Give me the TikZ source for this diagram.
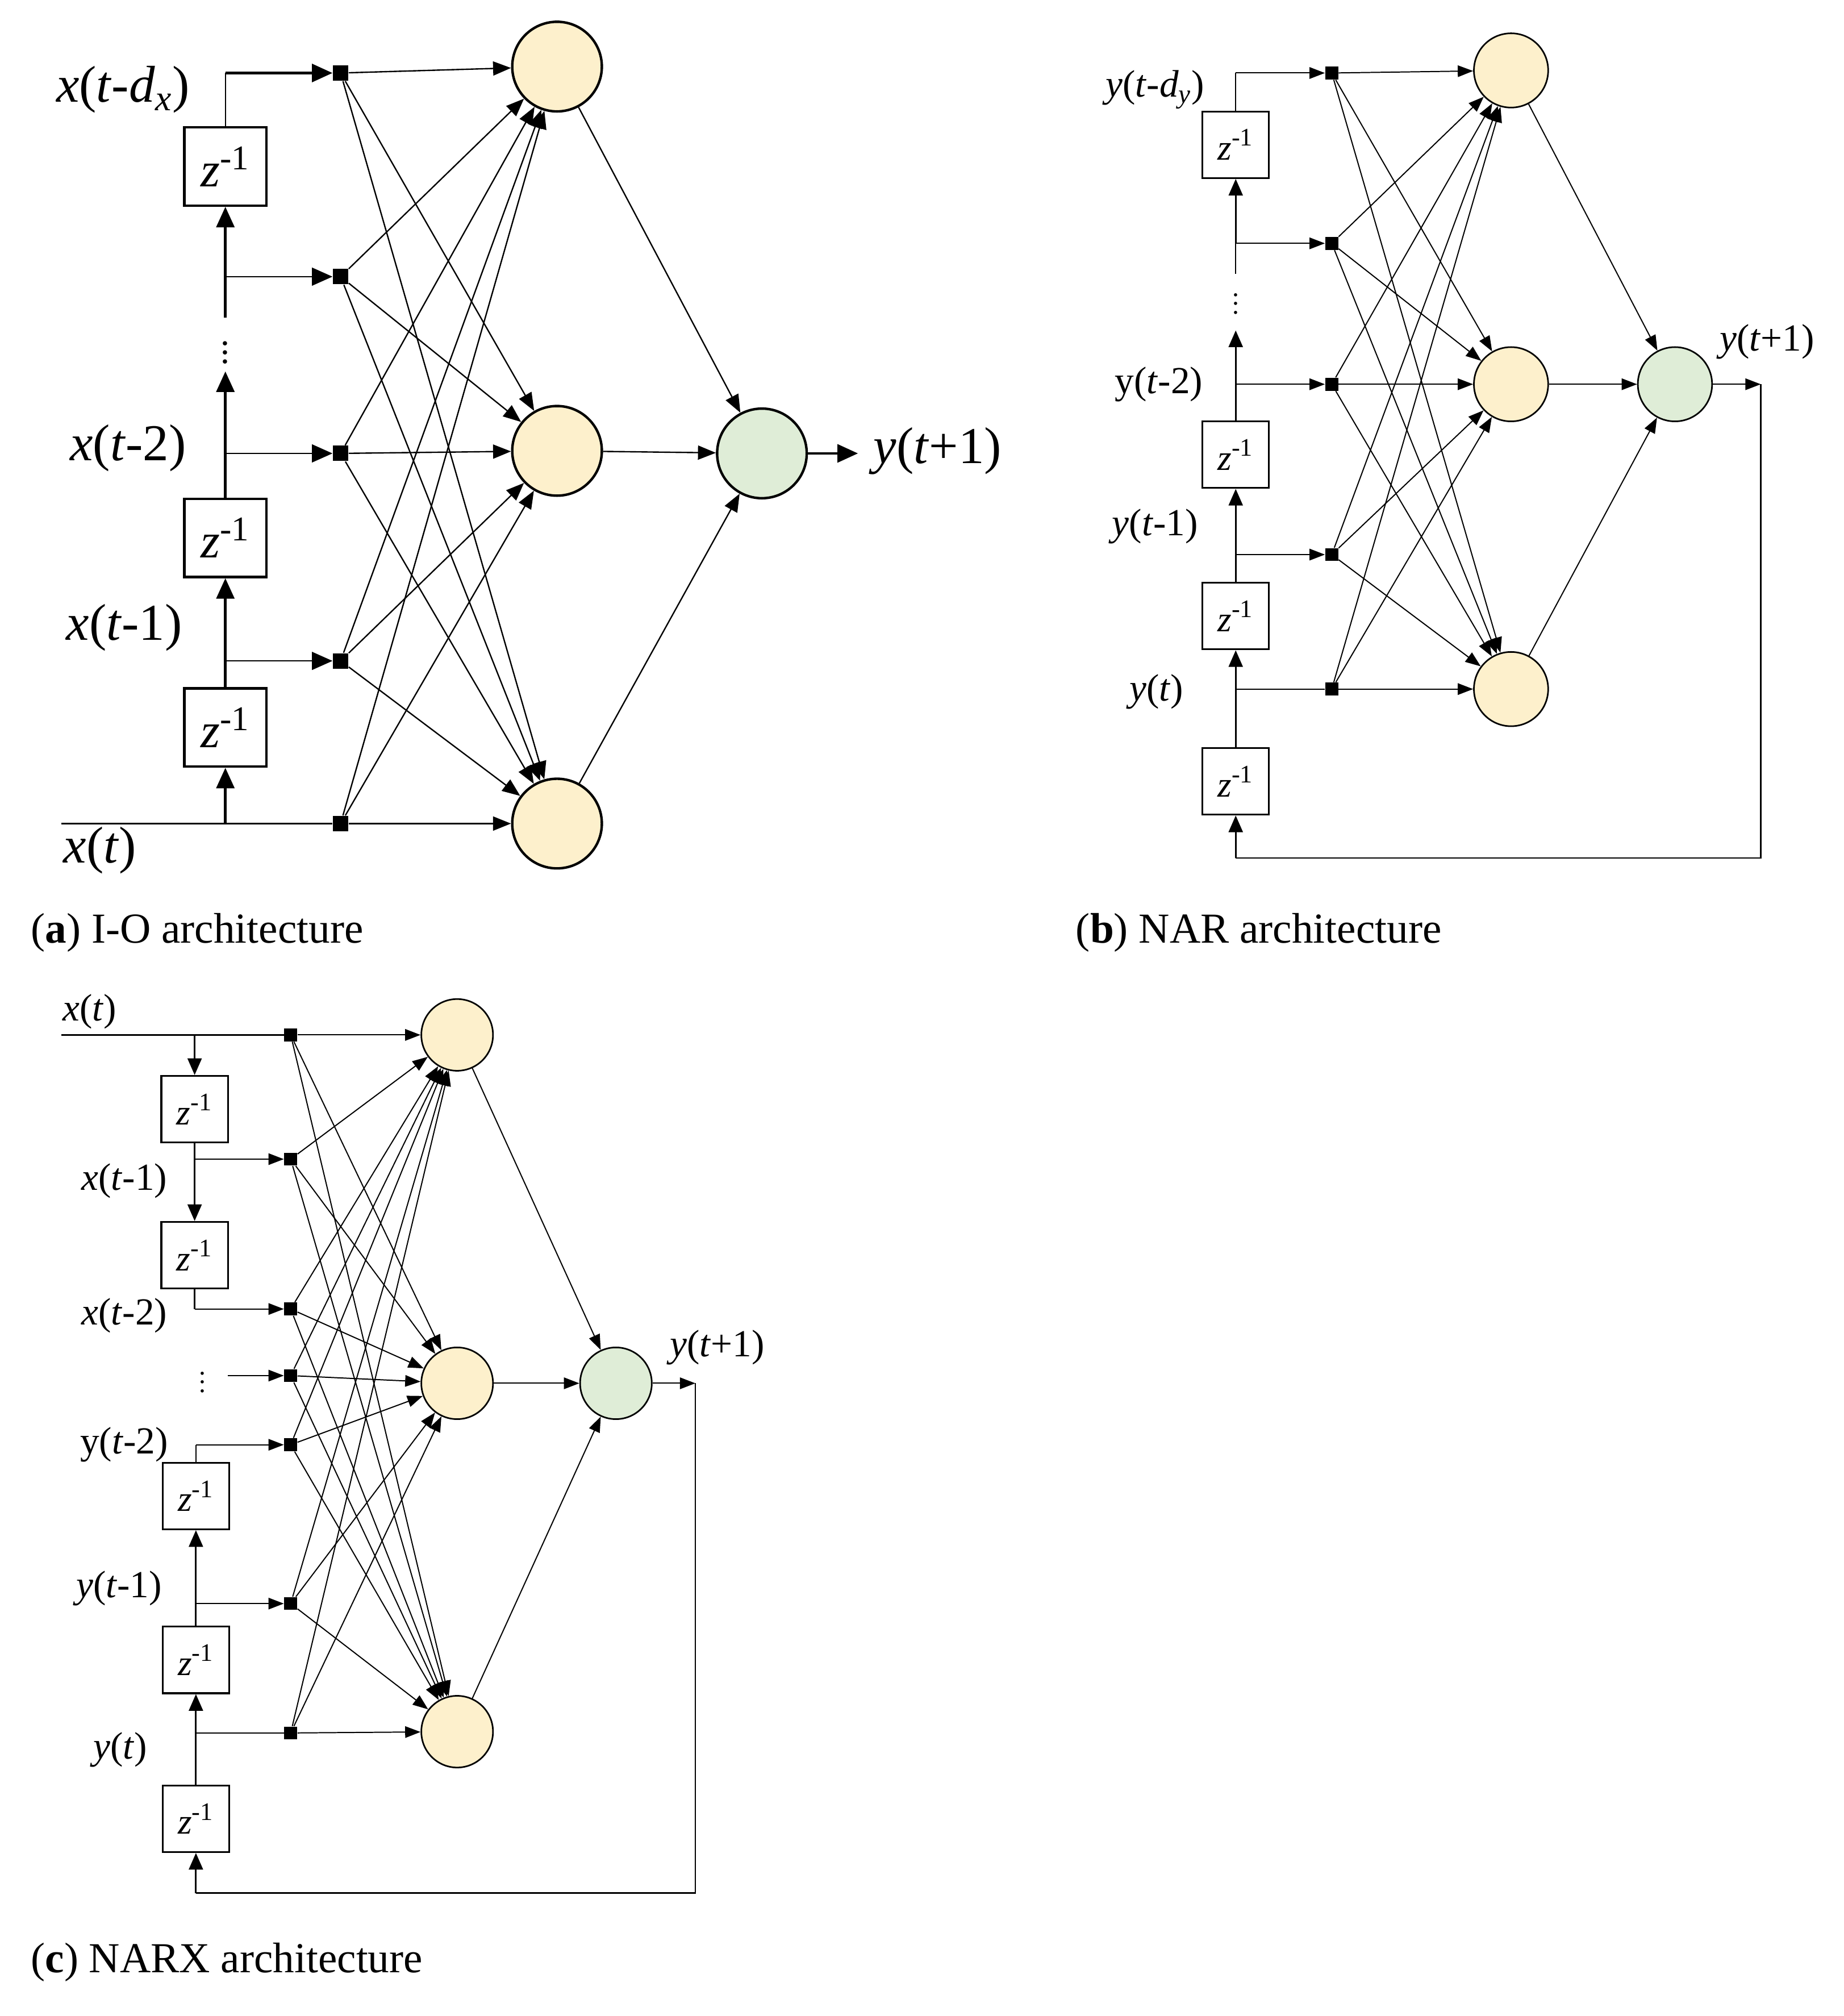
\documentclass[tikz,border=0pt]{standalone}
\usepackage{fontspec}
\setmainfont{Liberation Serif}
\usetikzlibrary{arrows.meta}
\definecolor{hid}{RGB}{253,240,204}
\definecolor{outc}{RGB}{223,237,215}
\newcommand{\zz}{\textit{z}\textsuperscript{-1}}
\newcommand{\iv}[1]{\textit{#1}}
\begin{document}
\begin{tikzpicture}[x=0.02cm,y=-0.02cm,
  dot/.style={fill=black,minimum size=0.24cm,inner sep=0,draw=none},
  sdot/.style={fill=black,minimum size=0.2cm,inner sep=0,draw=none},
  hA/.style={circle,draw,line width=1.1pt,fill=hid,minimum size=1.4cm,inner sep=0},
  oA/.style={circle,draw,line width=1.1pt,fill=outc,minimum size=1.4cm,inner sep=0},
  hB/.style={circle,draw,line width=0.7pt,fill=hid,minimum size=1.16cm,inner sep=0},
  oB/.style={circle,draw,line width=0.7pt,fill=outc,minimum size=1.16cm,inner sep=0},
  zA/.style={draw,line width=1.1pt,minimum width=1.28cm,minimum height=1.22cm,inner sep=0,font=\fontsize{22}{22}\selectfont},
  zB/.style={draw,line width=0.8pt,minimum width=1.04cm,minimum height=1.04cm,inner sep=0,font=\fontsize{16}{16}\selectfont},
  thA/.style={line width=1.2pt,-{Triangle[length=0.32cm,width=0.28cm]}},
  tnA/.style={line width=0.6pt,-{Triangle[length=0.28cm,width=0.22cm]}},
  lnA/.style={line width=0.6pt},
  thB/.style={line width=0.8pt,-{Triangle[length=0.26cm,width=0.22cm]}},
  tnB/.style={line width=0.5pt,-{Triangle[length=0.24cm,width=0.18cm]}},
  lnB/.style={line width=0.6pt},
  labA/.style={font=\fontsize{23}{23}\selectfont},
  labB/.style={font=\fontsize{17}{17}\selectfont},
  vd/.style={inner sep=0,font=\fontsize{12}{12}\selectfont},
  captxt/.style={font=\fontsize{19}{19}\selectfont,anchor=west}]
\useasboundingbox (0,0) rectangle (1440,1574);

% ================= (a) =================
\node[hA] (ah1) at (435,52) {};
\node[hA] (ah2) at (435,352) {};
\node[hA] (ah3) at (435,643) {};
\node[oA] (ao) at (595,354) {};
\foreach \n/\y in {1/57,2/216,3/354,4/516,5/643} \node[dot] (a\n) at (266,\y) {};
\node[zA] (az1) at (176,130) {\zz};
\node[zA] (az2) at (176,420) {\zz};
\node[zA] (az3) at (176,568) {\zz};
\coordinate (ain) at (48,643);
\coordinate (aj0) at (176,643);
\coordinate (aj1) at (176,516);
\coordinate (aj2) at (176,354);
\coordinate (adt) at (176,290);
\coordinate (adb) at (176,248);
\coordinate (aj3) at (176,216);
\coordinate (atop) at (176,57);
\draw[lnA] (ain) -- (a5);
\draw[thA] (aj0) -- (az3.south);
\draw[thA] (az3.north) -- (az2.south);
\draw[thA] (az2.north) -- (adt);
\node[vd,font=\fontsize{16}{16}\selectfont] (adots) at (176,270) {$\vdots$};
\draw[thA] (adb) -- (az1.south);
\draw[lnA] (az1.north) -- (atop);
\draw[thA] (atop) -- (a1.west);
\draw[thA,line width=0.6pt] (aj3) -- (a2.west);
\draw[thA,line width=0.6pt] (aj2) -- (a3.west);
\draw[thA,line width=0.6pt] (aj1) -- (a4.west);
\foreach \i in {1,...,5} \foreach \h in {1,2,3} \draw[tnA] (a\i) -- (ah\h);
\foreach \h in {1,2,3} \draw[tnA] (ah\h) -- (ao);
\coordinate (aout) at (670,354);
\draw[thA] (ao) -- (aout);
\node[labA,anchor=west] (ay) at (676,352) {\iv{y}(\iv{t}+1)};
\node[labA] (al1) at (96,70) {\iv{x}(\iv{t}-\iv{d}\textsubscript{\iv{x}})};
\node[labA] (al2) at (100,350) {\iv{x}(\iv{t}-2)};
\node[labA] (al3) at (97,490) {\iv{x}(\iv{t}-1)};
\node[labA] (al4) at (78,664) {\iv{x}(\iv{t})};
\node[captxt] (capa) at (18,728) {(\textbf{a}) I-O architecture};

% ================= (b) =================
\node[hB] (bh1) at (1180,55) {};
\node[hB] (bh2) at (1180,300) {};
\node[hB] (bh3) at (1180,538) {};
\node[oB] (bo) at (1308,300) {};
\foreach \n/\y in {1/57,2/190,3/300,4/433,5/538} \node[sdot] (b\n) at (1040,\y) {};
\node[zB] (bz1) at (965,113) {\zz};
\node[zB] (bz2) at (965,355) {\zz};
\node[zB] (bz3) at (965,481) {\zz};
\node[zB] (bz4) at (965,610) {\zz};
\coordinate (bj5) at (965,538);
\coordinate (bj4) at (965,433);
\coordinate (bj3) at (965,300);
\coordinate (bdt) at (965,258);
\coordinate (bdb) at (965,190);
\coordinate (btop) at (965,57);
\draw[thB] (bz4.north) -- (bz3.south);
\draw[thB] (bz3.north) -- (bz2.south);
\draw[thB] (bz2.north) -- (bdt);
\node[vd] (bdots) at (965,232) {$\vdots$};
\draw[lnB] (bdb) -- (965,214);
\draw[thB] (bdb) -- (bz1.south);
\draw[lnB] (bz1.north) -- (btop);
\draw[tnB] (btop) -- (b1.west);
\draw[tnB] (bdb) -- (b2.west);
\draw[tnB] (bj3) -- (b3.west);
\draw[tnB] (bj4) -- (b4.west);
\draw[lnB] (bj5) -- (b5);
\draw[tnB] (b5) -- (bh3);
\foreach \i in {1,2,3,4} \foreach \h in {1,2,3} \draw[tnB] (b\i) -- (bh\h);
\foreach \h in {1,2} \draw[tnB] (b5) -- (bh\h);
\foreach \h in {1,2,3} \draw[tnB] (bh\h) -- (bo);
\coordinate (bout) at (1375,300);
\coordinate (bc1) at (1375,670);
\coordinate (bc2) at (965,670);
\draw[tnB] (bo) -- (bout);
\draw[lnB] (bout) -- (bc1) -- (bc2);
\draw[thB] (bc2) -- (bz4.south);
\node[labB] (byo) at (1380,267) {\iv{y}(\iv{t}+1)};
\node[labB] (bl1) at (902,70) {\iv{y}(\iv{t}-\iv{d}\textsubscript{\iv{y}})};
\node[labB] (bl2) at (905,300) {y(\iv{t}-2)};
\node[labB] (bl3) at (902,411) {\iv{y}(\iv{t}-1)};
\node[labB] (bl4) at (903,540) {\iv{y}(\iv{t})};
\node[captxt] (capb) at (834,728) {(\textbf{b}) NAR architecture};

% ================= (c) =================
\node[hB,minimum size=1.12cm] (ch1) at (357,808) {};
\node[hB,minimum size=1.12cm] (ch2) at (357,1080) {};
\node[hB,minimum size=1.12cm] (ch3) at (357,1352) {};
\node[oB,minimum size=1.12cm] (co) at (481,1080) {};
\foreach \n/\y in {1/808,2/905,3/1022,4/1074,5/1128,6/1252,7/1353} \node[sdot] (c\n) at (227,\y) {};
\node[zB] (cz1) at (152,866) {\zz};
\node[zB] (cz2) at (152,980) {\zz};
\node[zB] (cz3) at (153,1168) {\zz};
\node[zB] (cz4) at (153,1296) {\zz};
\node[zB] (cz5) at (153,1420) {\zz};
\coordinate (cin) at (48,808);
\coordinate (cj1) at (152,808);
\coordinate (cj2) at (152,905);
\coordinate (cb2) at (152,1022);
\coordinate (cdd) at (178,1074);
\coordinate (cb3) at (153,1128);
\coordinate (cj6) at (153,1252);
\coordinate (cj7) at (153,1353);
\draw[lnB] (cin) -- (c1);
\draw[thB] (cj1) -- (cz1.north);
\draw[thB] (cz1.south) -- (cz2.north);
\draw[tnB] (cj2) -- (c2.west);
\draw[lnB] (cz2.south) -- (cb2);
\draw[tnB] (cb2) -- (c3.west);
\node[vd] (cdots) at (158,1074) {$\vdots$};
\draw[tnB] (cdd) -- (c4.west);
\draw[lnB] (cz3.north) -- (cb3);
\draw[tnB] (cb3) -- (c5.west);
\draw[thB] (cz4.north) -- (cz3.south);
\draw[thB] (cz5.north) -- (cz4.south);
\draw[tnB] (cj6) -- (c6.west);
\draw[lnB] (cj7) -- (c7);
\foreach \i in {1,...,7} \foreach \h in {1,2,3} \draw[tnB] (c\i) -- (ch\h);
\foreach \h in {1,2,3} \draw[tnB] (ch\h) -- (co);
\coordinate (cout) at (543,1080);
\coordinate (cc1) at (543,1478);
\coordinate (cc2) at (153,1478);
\draw[tnB] (co) -- (cout);
\draw[lnB] (cout) -- (cc1) -- (cc2);
\draw[thB] (cc2) -- (cz5.south);
\node[labB] (cyo) at (560,1052) {\iv{y}(\iv{t}+1)};
\node[labB] (cl1) at (70,790) {\iv{x}(\iv{t})};
\node[labB] (cl2) at (97,922) {\iv{x}(\iv{t}-1)};
\node[labB] (cl3) at (97,1027) {\iv{x}(\iv{t}-2)};
\node[labB] (cl4) at (97,1128) {y(\iv{t}-2)};
\node[labB] (cl5) at (93,1240) {\iv{y}(\iv{t}-1)};
\node[labB] (cl6) at (94,1366) {\iv{y}(\iv{t})};
\node[captxt] (capc) at (18,1532) {(\textbf{c}) NARX architecture};
\end{tikzpicture}
\end{document}
